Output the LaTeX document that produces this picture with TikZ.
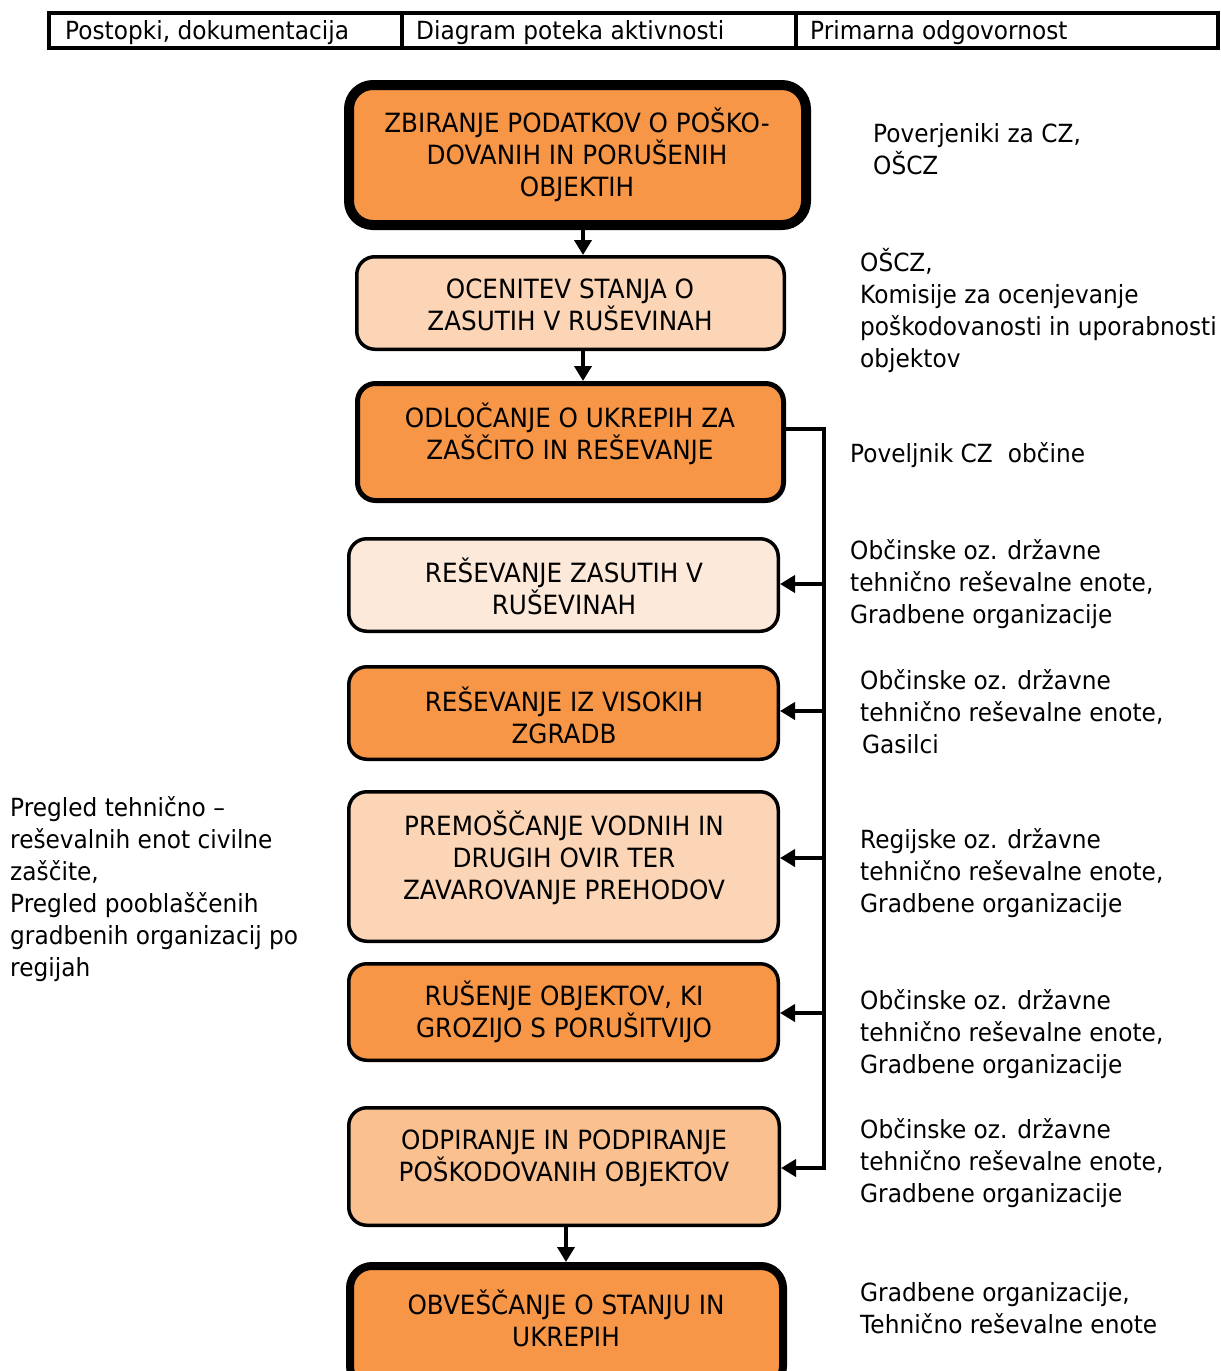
\documentclass[tikz,border=0pt]{standalone}
\usepackage{fontspec}
\setmainfont{DejaVu Sans}[FakeStretch=0.93]
\usetikzlibrary{arrows.meta}
\definecolor{orng}{HTML}{F79646}
\definecolor{peach}{HTML}{FBD5B5}
\definecolor{pale}{HTML}{FDE9D9}
\definecolor{lorng}{HTML}{FAC090}
\begin{document}
\begin{tikzpicture}[x=1pt,y=-1pt,
  box/.style={draw=black, line width=3.5pt, rounded corners=18pt, inner sep=0pt},
  btxt/.style={align=center, font=\fontsize{26.5}{32}\selectfont, inner sep=0pt},
  rtxt/.style={align=left, anchor=west, font=\fontsize{25}{32}\selectfont, inner sep=0pt},
  hdr/.style={draw=black, line width=4.5pt, minimum height=35pt, inner sep=0pt},
  arr/.style={line width=4pt, -{Triangle[length=15pt,width=17pt]}}
]
\clip (0,0) rectangle (1221,1371);
\fill[white] (0,0) rectangle (1221,1371);

% header
\node[hdr, minimum width=353pt] (h1) at (225.5,30.5) {};
\node[hdr, minimum width=394pt] (h2) at (599,30.5) {};
\node[hdr, minimum width=422pt] (h3) at (1007,30.5) {};
\node[rtxt] (ht1) at (65,33) {Postopki, dokumentacija};
\node[rtxt] (ht2) at (416,33) {Diagram poteka aktivnosti};
\node[rtxt] (ht3) at (810,33) {Primarna odgovornost};

% boxes
\node[box, fill=orng, line width=10pt, rounded corners=24pt, minimum width=457pt, minimum height=140pt] (b1) at (577.5,155) {};
\node[box, fill=peach, minimum width=427.5pt, minimum height=92.5pt] (b2) at (570.5,303) {};
\node[box, fill=orng, line width=5pt, minimum width=426pt, minimum height=117pt] (b3) at (570.5,442) {};
\node[box, fill=pale, minimum width=429.5pt, minimum height=92.5pt] (b4) at (563.5,585) {};
\node[box, fill=orng, minimum width=429.5pt, minimum height=92.5pt] (b5) at (563.5,713) {};
\node[box, fill=peach, minimum width=429.5pt, minimum height=149.5pt] (b6) at (563.5,866.5) {};
\node[box, fill=orng, minimum width=429.5pt, minimum height=96.5pt] (b7) at (563.5,1012) {};
\node[box, fill=lorng, minimum width=430.5pt, minimum height=117.5pt] (b8) at (564,1166.5) {};
\node[box, fill=orng, line width=8pt, rounded corners=22pt, minimum width=433pt, minimum height=122pt] (b9) at (566.5,1327) {};

\node[btxt] (t1) at (577,155) {ZBIRANJE PODATKOV O POŠKO-\\DOVANIH IN PORUŠENIH\\OBJEKTIH};
\node[btxt] (t2) at (570,305) {OCENITEV STANJA O\\ZASUTIH V RUŠEVINAH};
\node[btxt] (t3) at (570,434) {ODLOČANJE O UKREPIH ZA\\ZAŠČITO IN REŠEVANJE};
\node[btxt] (t4) at (564,586) {REŠEVANJE ZASUTIH V\\RUŠEVINAH};
\node[btxt] (t5) at (564,715) {REŠEVANJE IZ VISOKIH\\ZGRADB};
\node[btxt] (t6) at (564,858) {PREMOŠČANJE VODNIH IN\\DRUGIH OVIR TER\\ZAVAROVANJE PREHODOV};
\node[btxt] (t7) at (564,1012) {RUŠENJE OBJEKTOV, KI\\GROZIJO S PORUŠITVIJO};
\node[btxt] (t8) at (564,1158) {ODPIRANJE IN PODPIRANJE\\POŠKODOVANIH OBJEKTOV};
\node[btxt] (t9) at (566,1318) {OBVEŠČANJE O STANJU IN\\UKREPIH};

% vertical arrows
\coordinate (xa) at (583,0);
\coordinate (xb) at (566,0);
\draw[arr] (b1.south -| xa) -- (b2.north -| xa);
\draw[arr] (b2.south -| xa) -- (b3.north -| xa);
\draw[arr] (b8.south -| xb) -- (b9.north -| xb);

% bus
\coordinate (bt) at (824,429);
\coordinate (bb) at (824,1168);
\coordinate (j4) at (824,584);
\coordinate (j5) at (824,711);
\coordinate (j6) at (824,858);
\coordinate (j7) at (824,1013);
\draw[arr] (b3.east |- bt) -- (bt) -- (bb) -- (b8.east |- bb);
\draw[arr] (j4) -- (b4.east |- j4);
\draw[arr] (j5) -- (b5.east |- j5);
\draw[arr] (j6) -- (b6.east |- j6);
\draw[arr] (j7) -- (b7.east |- j7);

% responsibility texts
\node[rtxt] (r1) at (873,149) {Poverjeniki za CZ,\\OŠCZ};
\node[rtxt] (r2) at (860,310) {OŠCZ,\\Komisije za ocenjevanje\\poškodovanosti in uporabnosti\\objektov};
\node[rtxt] (r3) at (850,455) {Poveljnik CZ\hspace{0.6em}občine};
\node[rtxt] (r4) at (850,584) {Občinske oz. državne\\tehnično reševalne enote,\\Gradbene organizacije};
\node[rtxt] (r5) at (860,712) {Občinske oz. državne\\tehnično reševalne enote,\\\hspace{2pt}Gasilci};
\node[rtxt] (r6) at (860,873) {Regijske oz. državne\\tehnično reševalne enote,\\Gradbene organizacije};
\node[rtxt] (r7) at (860,1034) {Občinske oz. državne\\tehnično reševalne enote,\\Gradbene organizacije};
\node[rtxt] (r8) at (860,1163) {Občinske oz. državne\\tehnično reševalne enote,\\Gradbene organizacije};
\node[rtxt] (r9) at (860,1308) {Gradbene organizacije,\\Tehnično reševalne enote};
\node[rtxt] (l1) at (10,889) {Pregled tehnično –\\reševalnih enot civilne\\zaščite,\\Pregled pooblaščenih\\gradbenih organizacij po\\regijah};
\end{tikzpicture}
\end{document}
